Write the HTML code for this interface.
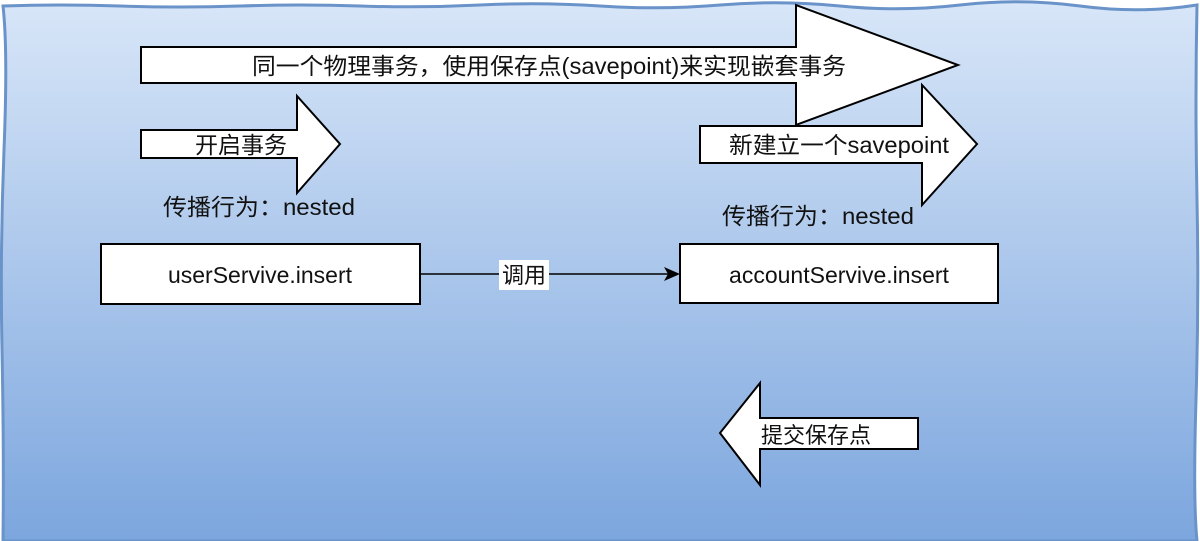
<!DOCTYPE html>
<html><head><meta charset="utf-8"><style>
html,body{margin:0;padding:0;width:1200px;height:541px;overflow:hidden;background:#fff}
svg{display:block}
text{font-family:"Liberation Sans","Noto Sans CJK SC",sans-serif;fill:#111}
</style></head><body>
<svg width="1200" height="541" viewBox="0 0 1200 541" xmlns="http://www.w3.org/2000/svg">
<defs>
<linearGradient id="bg" x1="0" y1="0" x2="0" y2="1">
<stop offset="0" stop-color="#d8e6f8"/>
<stop offset="1" stop-color="#7ca6de"/>
</linearGradient>
</defs>
<path d="M3,6 Q60,4 120,6 T240,6 T360,6 T480,5 T600,6 T720,5 T840,6 T960,5 T1080,6 T1197,5 Q1195,100 1197,200 T1196,400 T1197,541 L3,541 Q4,450 2,350 T4,150 T3,6 Z" fill="url(#bg)" stroke="#6a93c9" stroke-width="3"/>
<g fill="#fff" stroke="#000" stroke-width="2">
<polygon points="141,47 796,47 796,5 958,65 796,125 796,83 141,83"/>
<polygon points="141,130 297,130 297,96 340,144 297,193 297,158 141,158"/>
<polygon points="700,126 922,126 922,85 977,144 922,205 922,163 700,163"/>
<polygon points="918,418 760,418 760,383 720,433 760,485 760,449 918,449"/>
<rect x="101" y="244" width="319" height="60"/>
<rect x="680" y="244" width="318" height="59"/>
</g>
<line x1="420" y1="274" x2="668" y2="274" stroke="#000" stroke-width="1.5"/>
<polygon points="680,274 664,267 668,274 664,281" fill="#000"/>
<rect x="499" y="260" width="50" height="30" fill="#fff"/>
<text x="524" y="283" font-size="22" text-anchor="middle">调用</text>
<text x="549" y="74" font-size="23" text-anchor="middle" textLength="594" lengthAdjust="spacingAndGlyphs">同一个物理事务，使用保存点(savepoint)来实现嵌套事务</text>
<text x="241" y="153" font-size="23" text-anchor="middle">开启事务</text>
<text x="839" y="153" font-size="23" text-anchor="middle" textLength="220" lengthAdjust="spacingAndGlyphs">新建立一个savepoint</text>
<text x="163" y="215" font-size="23" textLength="192" lengthAdjust="spacingAndGlyphs">传播行为：nested</text>
<text x="722" y="224" font-size="23" textLength="192" lengthAdjust="spacingAndGlyphs">传播行为：nested</text>
<text x="260" y="283" font-size="23" text-anchor="middle">userServive.insert</text>
<text x="839" y="283" font-size="23" text-anchor="middle">accountServive.insert</text>
<text x="761" y="443" font-size="22">提交保存点</text>
</svg>
</body></html>
